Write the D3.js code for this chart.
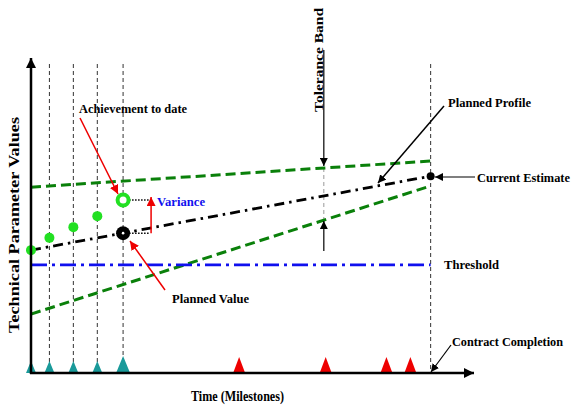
<!DOCTYPE html>
<html><head><meta charset="utf-8">
<script src="https://cdn.jsdelivr.net/npm/d3@7"></script>
<style>body{margin:0;background:#fff}svg{display:block}text{font-family:"Liberation Serif","DejaVu Serif","Times New Roman",serif;font-weight:bold}</style>
</head><body><svg id="c" width="573" height="406"></svg>
<script>
// Data (time in months, parameter value in %)
const reviewMilestones = [0, 1, 2.3, 3.6, 5];
const futureMilestones = [11.3, 16, 19.3, 20.6];
const completion = 21.7;
const achievement = [[0, 39], [1, 42.9], [2.3, 46.3], [3.6, 49.8]];
const achievementToDate = [5, 54.9];
const plannedValue = [5, 44.4];
const plannedProfile = [[0, 39], [21.7, 62.5]];
const upperBand = [[0, 59], [21.7, 67.3]];
const lowerBand = [[0, 18.7], [21.7, 59.4]];
const threshold = 34.3;
const toleranceAt = 15.9;

const svg = d3.select("#c");
const x = d3.scaleLinear().domain([0, 24]).range([31, 473]);
const y = d3.scaleLinear().domain([0, 100]).range([373, 58]);

const defs = svg.append("defs");
function marker(id, color, size) {
  defs.append("marker").attr("id", id).attr("viewBox", "0 0 10 10").attr("refX", 10).attr("refY", 5)
    .attr("markerWidth", size).attr("markerHeight", size).attr("orient", "auto-start-reverse")
    .attr("markerUnits", "userSpaceOnUse")
    .append("path").attr("d", "M0,0 L10,5 L0,10 z").attr("fill", color);
}
marker("ab", "#000", 8); marker("ar", "#e00", 9); marker("ax", "#000", 10);

// vertical dashed milestone lines
[...reviewMilestones.slice(1), completion].forEach(t => {
  svg.append("line").attr("x1", x(t)).attr("x2", x(t)).attr("y1", 64).attr("y2", y(0))
    .attr("stroke", "#333").attr("stroke-width", 1).attr("stroke-dasharray", "4,3");
});
// tolerance band gray dashed
svg.append("line").attr("x1", x(toleranceAt)).attr("x2", x(toleranceAt))
  .attr("y1", y(d3.interpolateNumber(upperBand[0][1], upperBand[1][1])(toleranceAt / 21.7)))
  .attr("y2", y(d3.interpolateNumber(lowerBand[0][1], lowerBand[1][1])(toleranceAt / 21.7)))
  .attr("stroke", "#999").attr("stroke-width", 1).attr("stroke-dasharray", "4,3");

const line = d3.line().x(d => x(d[0])).y(d => y(d[1]));
svg.append("path").attr("d", line(upperBand)).attr("fill", "none").attr("stroke", "#0a800a").attr("stroke-width", 3).attr("stroke-dasharray", "10,5");
svg.append("path").attr("d", line(lowerBand)).attr("fill", "none").attr("stroke", "#0a800a").attr("stroke-width", 3).attr("stroke-dasharray", "10,5");
svg.append("path").attr("d", line(plannedProfile)).attr("fill", "none").attr("stroke", "#000").attr("stroke-width", 2.8).attr("stroke-dasharray", "10,5,2.5,5");
svg.append("line").attr("x1", x(0)).attr("x2", x(completion)).attr("y1", y(threshold)).attr("y2", y(threshold))
  .attr("stroke", "#1010ee").attr("stroke-width", 2.8).attr("stroke-dasharray", "16,5,3,5");

// dotted variance lines
[achievementToDate, plannedValue].forEach(p => {
  svg.append("line").attr("x1", x(p[0])).attr("x2", x(p[0]) + 27).attr("y1", y(p[1])).attr("y2", y(p[1]))
    .attr("stroke", "#000").attr("stroke-width", 1.5).attr("stroke-dasharray", "1.5,1.5");
});
svg.append("line").attr("x1", x(5) + 28).attr("x2", x(5) + 28).attr("y1", y(plannedValue[1])).attr("y2", y(achievementToDate[1]) - 3)
  .attr("stroke", "#e00").attr("stroke-width", 1.5).attr("marker-end", "url(#ar)");

// achievement dots
svg.selectAll(".ach").data(achievement).enter().append("circle")
  .attr("cx", d => x(d[0])).attr("cy", d => y(d[1])).attr("r", 5).attr("fill", "#22e022");
svg.append("circle").attr("cx", x(achievementToDate[0])).attr("cy", y(achievementToDate[1])).attr("r", 5.5).attr("fill", "#fff").attr("stroke", "#22e022").attr("stroke-width", 4);
svg.append("circle").attr("cx", x(plannedValue[0])).attr("cy", y(plannedValue[1])).attr("r", 7).attr("fill", "#000");
svg.append("circle").attr("cx", x(plannedValue[0])).attr("cy", y(plannedValue[1])).attr("r", 1.3).attr("fill", "#fff");
svg.append("circle").attr("cx", x(completion)).attr("cy", y(plannedProfile[1][1])).attr("r", 4).attr("fill", "#000");

// milestones triangles
const tri = (t, h, w, c) => svg.append("path")
  .attr("d", `M${x(t) - w / 2},${y(0)} L${x(t)},${y(0) - h} L${x(t) + w / 2},${y(0)} z`).attr("fill", c);
reviewMilestones.forEach((t, i) => tri(t, i === 4 ? 17 : 12, i === 4 ? 14 : 10, "#1a9a9a"));
futureMilestones.forEach(t => tri(t, 16, 12, "#ee0000"));

// axes
svg.append("line").attr("x1", x(0)).attr("x2", x(0)).attr("y1", y(0) + 1).attr("y2", 58)
  .attr("stroke", "#000").attr("stroke-width", 2.5).attr("marker-end", "url(#ax)");
svg.append("line").attr("x1", x(0) - 1).attr("x2", 474).attr("y1", y(0)).attr("y2", y(0))
  .attr("stroke", "#000").attr("stroke-width", 2.5).attr("marker-end", "url(#ax)");

// labels
const txt = (s, tx, ty, sz, w, col) => svg.append("text").attr("x", tx).attr("y", ty).attr("font-size", sz)
  .attr("textLength", w).attr("lengthAdjust", "spacingAndGlyphs").attr("fill", col || "#000").text(s);
txt("Achievement to date", 79, 113, 13.5, 108);
svg.append("line").attr("x1", 80).attr("y1", 118).attr("x2", 118).attr("y2", 194).attr("stroke", "#e00").attr("stroke-width", 1.5).attr("marker-end", "url(#ar)");
txt("Variance", 157, 206, 13.5, 48, "#1010ee");
txt("Planned Value", 172, 303, 13.5, 77);
svg.append("line").attr("x1", 165).attr("y1", 290).attr("x2", 130).attr("y2", 241).attr("stroke", "#e00").attr("stroke-width", 1.5).attr("marker-end", "url(#ar)");
svg.append("text").attr("transform", `translate(${x(toleranceAt) - 1},112) rotate(-90)`).attr("font-size", 13.5)
  .attr("textLength", 104).attr("lengthAdjust", "spacingAndGlyphs").text("Tolerance Band");
svg.append("line").attr("x1", x(toleranceAt)).attr("y1", 50).attr("x2", x(toleranceAt)).attr("y2", 166).attr("stroke", "#000").attr("stroke-width", 1.2).attr("marker-end", "url(#ab)");
svg.append("line").attr("x1", x(toleranceAt)).attr("y1", 251).attr("x2", x(toleranceAt)).attr("y2", 221).attr("stroke", "#000").attr("stroke-width", 1.2).attr("marker-end", "url(#ab)");
txt("Planned Profile", 448, 107, 13.5, 83);
svg.append("line").attr("x1", 444).attr("y1", 106).attr("x2", 378).attr("y2", 183).attr("stroke", "#000").attr("stroke-width", 1.5).attr("marker-end", "url(#ab)");
txt("Current Estimate", 477, 182, 12.5, 93);
svg.append("line").attr("x1", 475).attr("y1", 177).attr("x2", 435).attr("y2", 177).attr("stroke", "#000").attr("stroke-width", 1.2).attr("marker-end", "url(#ab)");
txt("Threshold", 444, 269, 13.5, 55);
txt("Contract Completion", 452, 346, 12.5, 111);
svg.append("line").attr("x1", 451).attr("y1", 345).attr("x2", 431).attr("y2", 372).attr("stroke", "#000").attr("stroke-width", 1.2).attr("marker-end", "url(#ab)");
svg.append("text").attr("transform", "translate(19,225) rotate(-90)").attr("text-anchor", "middle").attr("font-size", 15.5)
  .attr("textLength", 216).attr("lengthAdjust", "spacingAndGlyphs").text("Technical Parameter Values");
txt("Time (Milestones)", 191, 401, 15.5, 93);
</script></body></html>
